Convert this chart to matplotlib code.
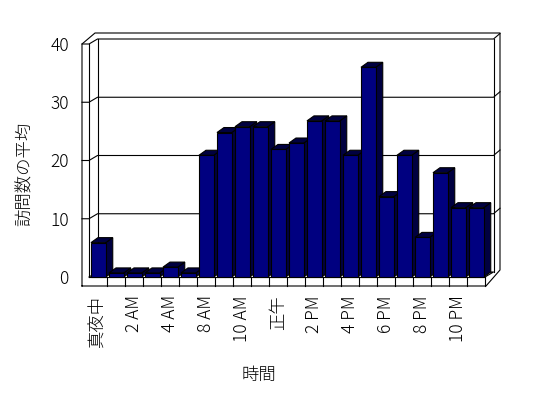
import matplotlib
matplotlib.use("Agg")
import matplotlib.pyplot as plt
from matplotlib.patches import Polygon
from matplotlib.lines import Line2D
from matplotlib.transforms import IdentityTransform

plt.rcParams['font.family'] = ['Noto Sans CJK JP', 'DejaVu Sans']
plt.rcParams['font.weight'] = 'light'

# hours shown in the chart (6 AM and 7 AM are absent)
hours = ['真夜中', '1 AM', '2 AM', '3 AM', '4 AM', '5 AM', '8 AM', '9 AM', '10 AM', '11 AM',
         '正午', '1 PM', '2 PM', '3 PM', '4 PM', '5 PM', '6 PM', '7 PM', '8 PM', '9 PM',
         '10 PM', '11 PM']
visits = [5.9, 0.7, 0.7, 0.7, 1.7, 0.7, 20.9, 24.8, 25.8, 25.8, 21.9, 23.0,
          26.8, 26.8, 20.9, 36.0, 13.8, 20.9, 6.8, 17.9, 11.9, 11.9]
yticks = [0, 10, 20, 30, 40]

front_col = '#000080'
shade_col = '#000040'
dpi = 100

fig = plt.figure(figsize=(5.48, 3.98), dpi=dpi)
fig.patch.set_facecolor('white')
ax = fig.add_axes([89/548, 1 - 277/398, 396/548, 233/398])
n = len(hours)
ax.set_xlim(0, n)
ax.set_ylim(0, 40)
ax.patch.set_visible(False)
for s in ax.spines.values():
    s.set_visible(False)

def P(x, v, dx=0, dy=0):
    # data point -> display pixels, plus a pixel offset for the fake depth
    X, Y = ax.transData.transform((x, v))
    return (X + dx, Y + dy)

def seg(*pts, z=1):
    xs = [p[0] for p in pts]
    ys = [p[1] for p in pts]
    ax.add_line(Line2D(xs, ys, transform=IdentityTransform(), color='black',
                       lw=0.8, zorder=z, clip_on=False))

# walls, floor and gridlines
seg(P(0, 0, -7, -9), P(0, 40, -7, 0), P(0, 40, 6, 11), P(n, 40, 15, 11),
    P(n, 0, 15, 7), P(n, 0, 1, -9), P(0, 0, -7, -9))
seg(P(0, 0), P(0, 40))
seg(P(0, 0, 8.5, 5), P(0, 40, 8.5, 5))
seg(P(n, 0, 8.5, 5), P(n, 40, 8.5, 5))
for v in yticks[1:]:
    seg(P(0, v, -7, 0), P(0, v), P(0, v, 8.5, 5), P(n, v, 8.5, 5), P(n, v, 15, 10.5))
seg(P(0, 0), P(0, 0, 8.5, 5), P(n, 0, 8.5, 5), P(n, 0))
seg(P(0, 0), P(n, 0))
for i in range(1, n + 1):
    seg(P(i, 0), P(i, 0, 0, -9))

# bars with a fake 3d side and top
for i, v in enumerate(visits):
    x0, x1 = i + 0.11, i + 0.93
    z = 3 + i
    side = [P(x1, 0), P(x1, 0, 7, 5), P(x1, v, 7, 5), P(x1, v)]
    top = [P(x0, v), P(x1, v), P(x1, v, 7, 5), P(x0, v, 7, 5)]
    front = [P(x0, 0), P(x1, 0), P(x1, v), P(x0, v)]
    for pts, col in [(side, shade_col), (top, shade_col), (front, front_col)]:
        ax.add_patch(Polygon(pts, closed=True, transform=IdentityTransform(),
                             facecolor=col, edgecolor='black', lw=0.8,
                             zorder=z, clip_on=False))

ax.set_xticks([i + 0.5 for i in range(0, n, 2)])
ax.set_xticklabels(hours[::2], rotation=90, fontsize=12.5)
ax.set_yticks(yticks)
ax.set_yticklabels([str(t) for t in yticks], fontsize=12.5)
ax.tick_params(axis='x', length=0, pad=13)
ax.tick_params(axis='y', length=0, pad=14.5)

fig.text(25/548, 1 - 174/398, '訪問数の平均', rotation=90, ha='center', va='center',
         fontsize=12.5)
fig.text(259/548, 1 - 374.5/398, '時間', ha='center', va='center', fontsize=12.5)

fig.savefig('out.png', dpi=dpi)
